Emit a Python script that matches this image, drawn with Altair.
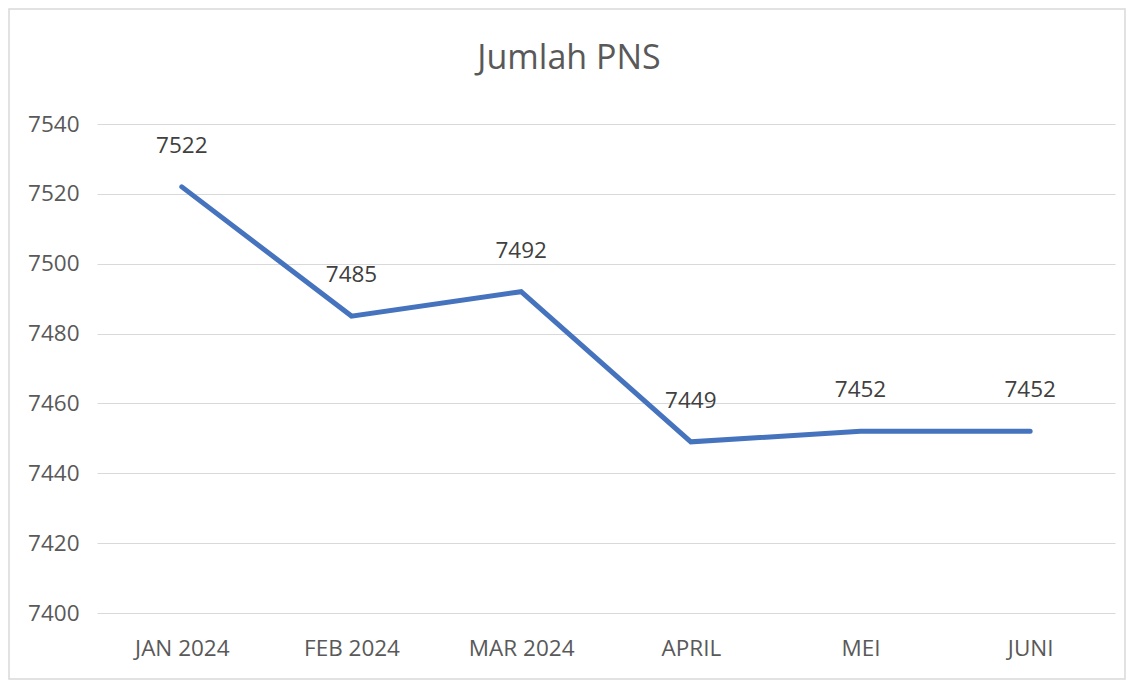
import altair as alt
import pandas as pd

months = ["JAN 2024", "FEB 2024", "MAR 2024", "APRIL", "MEI", "JUNI"]
values = [7522, 7485, 7492, 7449, 7452, 7452]
y_ticks = [7400, 7420, 7440, 7460, 7480, 7500, 7520, 7540]

df = pd.DataFrame({"bulan": months, "jumlah": values})

W, H = 1018, 489
FONT = "Open Sans"

x_enc = alt.X("bulan:N", sort=months, title=None,
              scale=alt.Scale(type="point", padding=0.5),
              axis=alt.Axis(labelAngle=0, labelFontSize=22.5, labelColor="#595959",
                            labelFont=FONT, domain=False, ticks=False, labelPadding=24,
                            grid=False))
y_enc = alt.Y("jumlah:Q", title=None,
              scale=alt.Scale(domain=[7400, 7540], nice=False, zero=False),
              axis=alt.Axis(values=y_ticks, format="d", labelFontSize=22.5, labelColor="#595959",
                            labelFont=FONT, domain=False, ticks=False, labelPadding=18,
                            grid=True, gridColor="#d9d9d9", gridWidth=1.2))

base = alt.Chart(df)

border = base.mark_rect(fill="transparent", stroke="#d9d9d9", strokeWidth=1.5).encode(
    x=alt.value(-88), x2=alt.value(W + 10), y=alt.value(-115), y2=alt.value(H + 66)
).transform_filter(alt.datum.bulan == months[0])

line = base.mark_line(color="#4673BD", strokeWidth=5, strokeCap="round",
                      strokeJoin="miter").encode(x=x_enc, y=y_enc)

labels = base.mark_text(dy=-41, baseline="middle", fontSize=22.5, font=FONT,
                        color="#404040").encode(
    x=alt.X("bulan:N", sort=months), y="jumlah:Q", text="jumlah:Q")

chart = alt.layer(border, line, labels).properties(
    width=W, height=H,
    title=alt.TitleParams("Jumlah PNS", fontSize=34, font=FONT, color="#595959",
                          fontWeight="normal", anchor="middle", frame="group", dx=-37,
                          baseline="alphabetic", offset=-95),
    autosize=alt.AutoSizeParams(type="none"),
    padding={"left": 89, "top": 116, "right": 12, "bottom": 68},
    background="white",
).configure_view(stroke=None)

chart.save("out.html", embed_options={"renderer": "svg", "actions": False})
